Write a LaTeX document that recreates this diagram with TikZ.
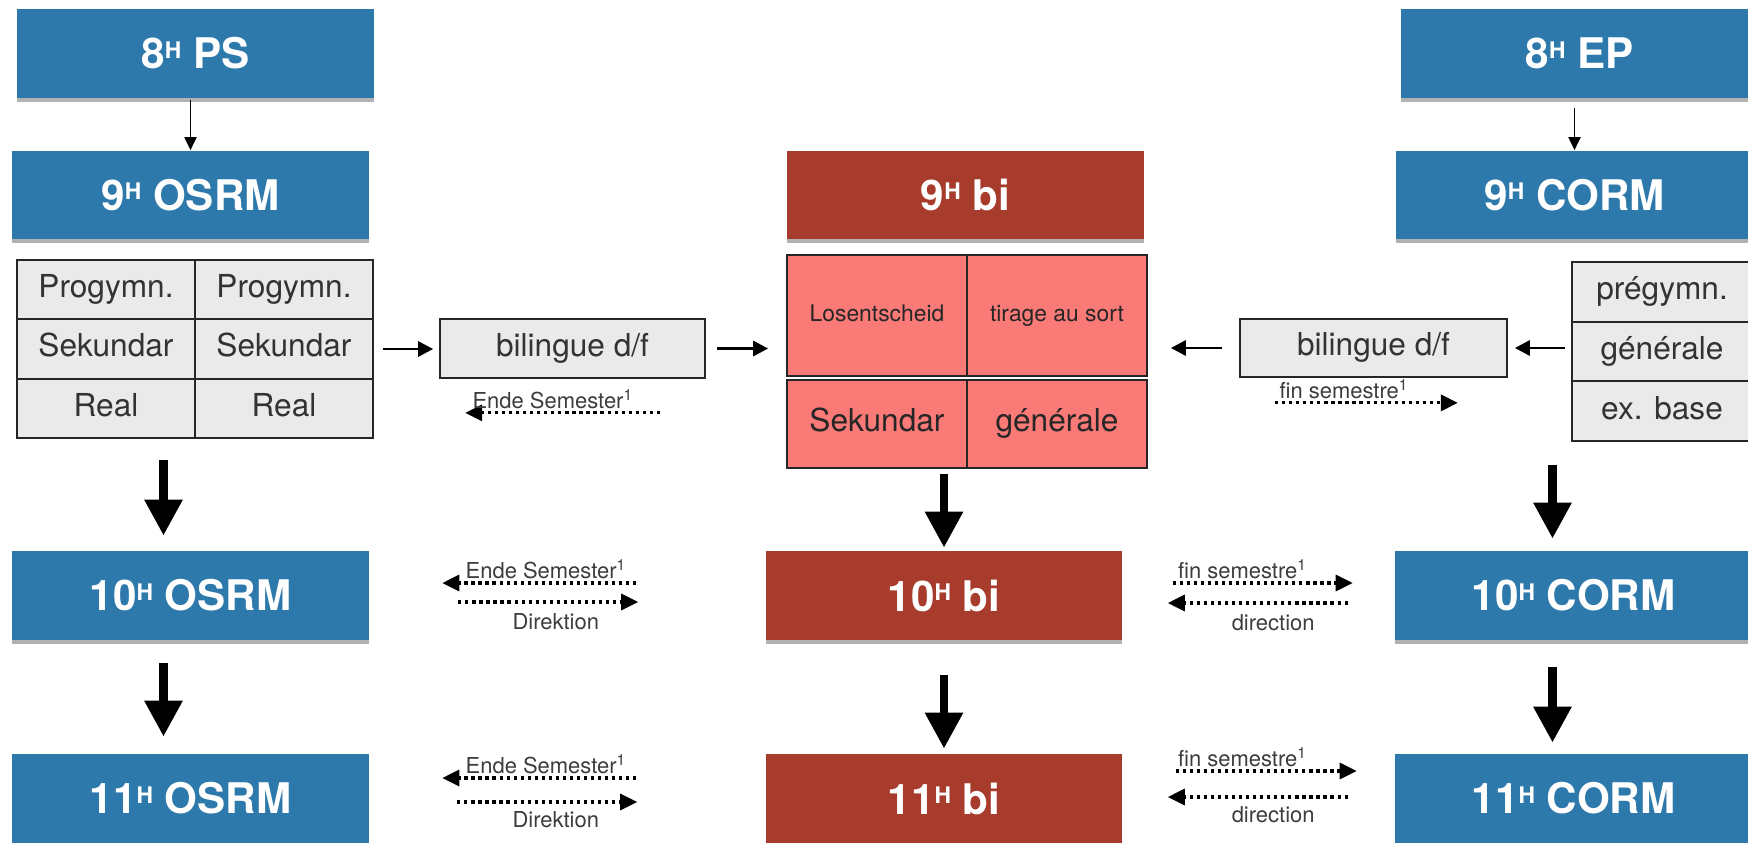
\documentclass[tikz,border=0pt]{standalone}
\usepackage{fontspec}
\setmainfont{TeX Gyre Heros}
\usetikzlibrary{arrows.meta,shadows,calc}
\definecolor{schoolblue}{RGB}{46,121,172}
\definecolor{bired}{RGB}{167,59,44}
\definecolor{bipink}{RGB}{249,122,119}
\definecolor{cellgrey}{RGB}{234,234,234}
\definecolor{labelgrey}{RGB}{60,60,60}
\newcommand{\hsup}{\raisebox{6pt}{\fontsize{13}{13}\selectfont H}}

\tikzset{
  stage/.style={minimum width=7.14cm, minimum height=1.78cm, inner sep=0pt, text=white,
    font=\fontsize{24}{28}\selectfont\bfseries,
    drop shadow={shadow xshift=0pt, shadow yshift=-2pt, fill=black, opacity=0.3}},
  bluestage/.style={stage, fill=schoolblue},
  redstage/.style={stage, fill=bired},
  cell/.style={draw=black!85, line width=1pt, fill=cellgrey, text=black!80, inner sep=0pt,
    minimum width=3.56cm, minimum height=1.186cm, text height=13pt, text depth=4pt,
    font=\fontsize{18}{20}\selectfont},
  pinkcell/.style={cell, fill=bipink, text=black!85, minimum width=3.6cm},
  biling/.style={cell, minimum width=5.3cm, minimum height=1.18cm},
  thinarrow/.style={-{Triangle[length=0.26cm,width=0.24cm]}, line width=1.1pt},
  midarrow/.style={-{Triangle[length=0.3cm,width=0.3cm]}, line width=1.7pt},
  bigarrow/.style={-{Triangle[length=0.72cm,width=0.72cm]}, line width=5pt},
  dotarrow/.style={-{Triangle[length=0.34cm,width=0.32cm]}, line width=1.8pt, dash pattern=on 1.8pt off 2.2pt},
  note/.style={text=labelgrey, font=\fontsize{12.5}{14}\selectfont, inner sep=1.5pt}
}

\begin{document}
\begin{tikzpicture}[x=0.02cm, y=-0.02cm]
\useasboundingbox (0,0) rectangle (1748,842);
\clip (0,0) rectangle (1748,842);

% German-speaking column
\node[bluestage] (ps8) at (195.5,53.5) {8\hsup\ PS};
\node[bluestage] (osrm9) at (190.5,195) {9\hsup\ OSRM};
\node[bluestage] (osrm10) at (190.5,595.5) {10\hsup\ OSRM};
\node[bluestage] (osrm11) at (190.5,798.5) {11\hsup\ OSRM};

\node[cell] (progL) at (106,289.7) {Progymn.};
\node[cell] (progR) at (284,289.7) {Progymn.};
\node[cell] (sekL) at (106,349) {Sekundar};
\node[cell] (sekR) at (284,349) {Sekundar};
\node[cell] (realL) at (106,408.3) {Real};
\node[cell] (realR) at (284,408.3) {Real};

\node[biling] (biD) at (572.5,348.5) {bilingue d/f};

% bilingual column
\node[redstage] (bi9) at (965.5,195) {9\hsup\ bi};
\node[redstage] (bi10) at (944,595.5) {10\hsup\ bi};
\node[redstage] (bi11) at (944,798.5) {11\hsup\ bi};

\node[pinkcell, minimum height=2.42cm, text height=9.5pt, text depth=3pt, font=\fontsize{13}{15}\selectfont] (los) at (877,315.5) {Losentscheid};
\node[pinkcell, minimum height=2.42cm, text height=9.5pt, text depth=3pt, font=\fontsize{13}{15}\selectfont] (tirage) at (1057,315.5) {tirage au sort};
\node[pinkcell, minimum height=1.76cm] (sekbi) at (877,424) {Sekundar};
\node[pinkcell, minimum height=1.76cm] (genbi) at (1057,424) {générale};

% French-speaking column
\node[bluestage] (ep8) at (1579.5,53.5) {8\hsup\ EP};
\node[bluestage] (corm9) at (1574.5,195) {9\hsup\ CORM};
\node[bluestage] (corm10) at (1573.5,595.5) {10\hsup\ CORM};
\node[bluestage] (corm11) at (1573.5,798.5) {11\hsup\ CORM};

\node[cell, minimum width=3.6cm, minimum height=1.193cm] (pregym) at (1662,291.8) {prégymn.};
\node[cell, minimum width=3.6cm, minimum height=1.193cm] (genCO) at (1662,351.5) {générale};
\node[cell, minimum width=3.6cm, minimum height=1.193cm] (exbase) at (1662,411.2) {ex. base};

\node[biling, minimum width=5.34cm, minimum height=1.16cm] (biF) at (1373.5,348) {bilingue d/f};

% arrows
\draw[thinarrow, shorten <=0.04cm] (osrm9.north |- ps8.south) -- (osrm9.north);
\draw[thinarrow, shorten <=0.2cm] (corm9.north |- ep8.south) -- (corm9.north);

\draw[midarrow, shorten <=0.18cm, shorten >=0.12cm] (sekR.east) -- (sekR.east -| biD.west);
\draw[midarrow, shorten <=0.22cm, shorten >=0.36cm] (biD.east) -- (biD.east -| los.west);
\draw[midarrow, shorten <=0.34cm, shorten >=0.46cm] (biF.west) -- (biF.west -| tirage.east);
\draw[midarrow, shorten <=0.12cm, shorten >=0.14cm] (biF.east -| genCO.west) -- (biF.east);

\draw[bigarrow, shorten <=0.42cm, shorten >=0.3cm] ($(osrm10.north |- realL.south)+(-27,0)$) -- ($(osrm10.north)+(-27,0)$);
\draw[bigarrow, shorten <=0.1cm, shorten >=0.06cm] (bi10.north |- sekbi.south) -- (bi10.north);
\draw[bigarrow, shorten <=0.46cm, shorten >=0.24cm] ($(corm10.north |- exbase.south)+(-21,0)$) -- ($(corm10.north)+(-21,0)$);
\draw[bigarrow, shorten <=0.46cm, shorten >=0.34cm] ($(osrm10.south)+(-27,0)$) -- ($(osrm11.north)+(-27,0)$);
\draw[bigarrow, shorten <=0.7cm, shorten >=0.1cm] (bi10.south) -- (bi11.north);
\draw[bigarrow, shorten <=0.54cm, shorten >=0.22cm] ($(corm10.south)+(-21,0)$) -- ($(corm11.north)+(-21,0)$);

% changes between the streams
\draw[dotarrow, shorten <=0.92cm, shorten >=0.52cm] ([yshift=-0.68cm]biD.south east) -- ([yshift=-0.68cm]biD.south west)
  node[note, above, pos=0.574] {Ende Semester\textsuperscript{1}};
\draw[dotarrow, shorten <=0.72cm, shorten >=1.0cm] ([yshift=-0.5cm]biF.south west) -- ([yshift=-0.5cm]biF.south east)
  node[note, above, pos=0.39] {fin semestre\textsuperscript{1}};

\draw[dotarrow, shorten <=2.58cm, shorten >=1.46cm] ([yshift=0.25cm]bi10.west) -- ([yshift=0.25cm]osrm10.east)
  node[note, above, pos=0.554] {Ende Semester\textsuperscript{1}};
\draw[dotarrow, shorten <=1.78cm, shorten >=2.54cm] ([yshift=-0.13cm]osrm10.east) -- ([yshift=-0.13cm]bi10.west)
  node[note, below, yshift=-4pt, pos=0.471] {Direktion};
\draw[dotarrow, shorten <=2.58cm, shorten >=1.46cm] ([yshift=0.41cm]bi11.west) -- ([yshift=0.41cm]osrm11.east)
  node[note, above, pos=0.554] {Ende Semester\textsuperscript{1}};
\draw[dotarrow, shorten <=1.76cm, shorten >=2.56cm] ([yshift=-0.07cm]osrm11.east) -- ([yshift=-0.07cm]bi11.west)
  node[note, below, yshift=-3pt, pos=0.471] {Direktion};

\draw[dotarrow, shorten <=1.0cm, shorten >=0.84cm] ([yshift=0.25cm]bi10.east) -- ([yshift=0.25cm]corm10.west)
  node[note, above, pos=0.44] {fin semestre\textsuperscript{1}};
\draw[dotarrow, shorten <=0.94cm, shorten >=0.9cm] ([yshift=-0.15cm]corm10.west) -- ([yshift=-0.15cm]bi10.east)
  node[note, below, yshift=-4pt, pos=0.447] {direction};
\draw[dotarrow, shorten <=1.06cm, shorten >=0.76cm] ([yshift=0.55cm]bi11.east) -- ([yshift=0.55cm]corm11.west)
  node[note, above, pos=0.44] {fin semestre\textsuperscript{1}};
\draw[dotarrow, shorten <=0.94cm, shorten >=0.9cm] ([yshift=0.03cm]corm11.west) -- ([yshift=0.03cm]bi11.east)
  node[note, below, yshift=-3pt, pos=0.447] {direction};
\end{tikzpicture}
\end{document}
